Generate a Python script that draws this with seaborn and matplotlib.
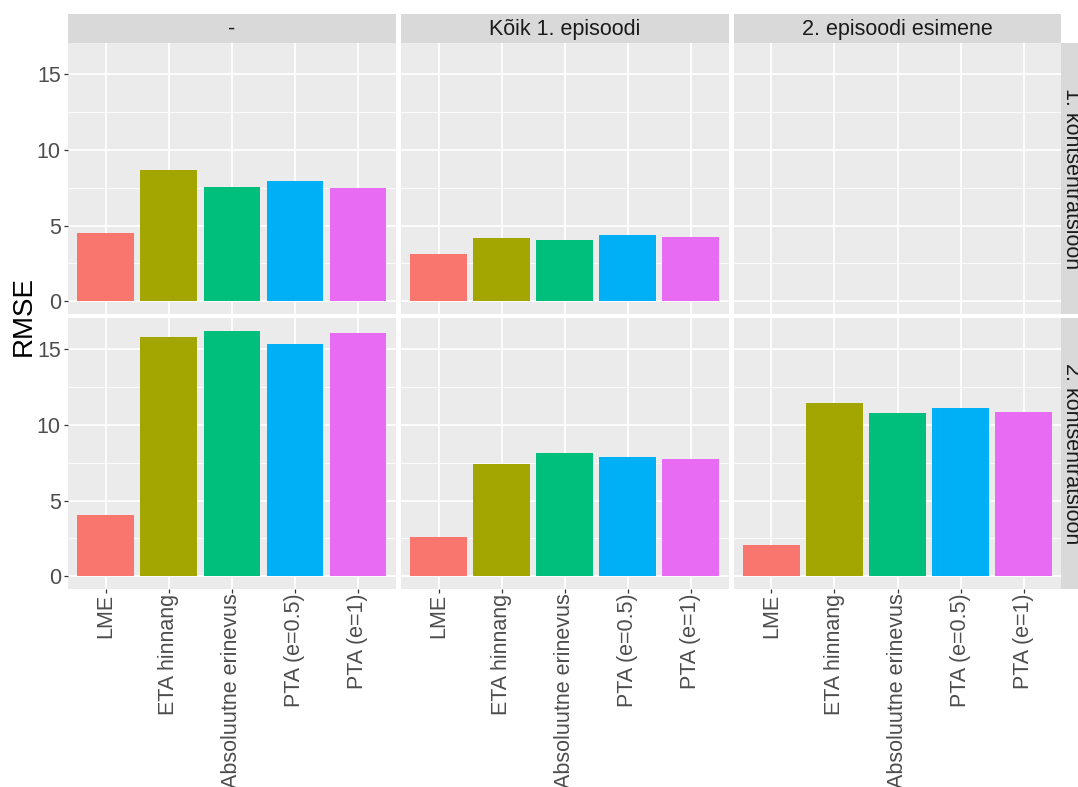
import matplotlib
matplotlib.use("Agg")
import matplotlib.pyplot as plt
import numpy as np
import pandas as pd
import seaborn as sns

# Facet levels and methods
methods = ["LME", "ETA hinnang", "Absoluutne erinevus", "PTA (e=0.5)", "PTA (e=1)"]
episodes = ["-", "Kõik 1. episoodi", "2. episoodi esimene"]
concentrations = ["1. kontsentratsioon", "2. kontsentratsioon"]

# RMSE values per facet (concentration x episode)
rmse_c1_none = [4.48, 8.66, 7.58, 7.93, 7.51]
rmse_c1_ep1 = [3.14, 4.17, 4.07, 4.35, 4.22]
rmse_c1_ep2 = []  # no data for this combination
rmse_c2_none = [4.05, 15.82, 16.24, 15.33, 16.06]
rmse_c2_ep1 = [2.62, 7.42, 8.13, 7.91, 7.78]
rmse_c2_ep2 = [2.07, 11.48, 10.77, 11.12, 10.88]

palette = ["#F8766D", "#A3A500", "#00BF7D", "#00B0F6", "#E76BF3"]
y_ticks = [0, 5, 10, 15]
y_minor = [2.5, 7.5, 12.5]

rows = []
for conc, ep, vals in [
    (concentrations[0], episodes[0], rmse_c1_none),
    (concentrations[0], episodes[1], rmse_c1_ep1),
    (concentrations[0], episodes[2], rmse_c1_ep2),
    (concentrations[1], episodes[0], rmse_c2_none),
    (concentrations[1], episodes[1], rmse_c2_ep1),
    (concentrations[1], episodes[2], rmse_c2_ep2),
]:
    for m, v in zip(methods, vals):
        rows.append({"conc": conc, "episode": ep, "method": m, "rmse": v})
df = pd.DataFrame(rows)

plt.rcParams["font.family"] = ["Liberation Sans", "DejaVu Sans"]

W, H = 1078, 787
fig = plt.figure(figsize=(W / 100, H / 100), dpi=100)
fig.patch.set_facecolor("white")

panel_x = [68.0, 400.8, 733.6]
panel_w = 327.8
panel_y = [43.3, 318.3]
panel_h = 270.2
strip_h = 29.0
fs = 15.5

ymax = df["rmse"].max()
ylim = (-0.05 * ymax, 1.05 * ymax)


def add_ax(x, y, w, h):
    return fig.add_axes([x / W, 1 - (y + h) / H, w / W, h / H])


for r, conc in enumerate(concentrations):
    for c, ep in enumerate(episodes):
        ax = add_ax(panel_x[c], panel_y[r], panel_w, panel_h)
        ax.set_facecolor("#EBEBEB")
        sub = df[(df["conc"] == conc) & (df["episode"] == ep)]
        if len(sub):
            sns.barplot(data=sub, x="method", y="rmse", hue="method",
                        order=methods, hue_order=methods, palette=palette,
                        width=0.9, saturation=1, errorbar=None, legend=False,
                        ax=ax, zorder=3)
        ax.set_xticks(range(len(methods)))
        ax.set_xlim(-0.6, len(methods) - 0.4)
        ax.set_ylim(*ylim)
        ax.set_yticks(y_ticks)
        ax.set_yticks(y_minor, minor=True)
        ax.grid(True, which="major", color="white", linewidth=1.25, zorder=1)
        ax.grid(True, which="minor", axis="y", color="white", linewidth=0.6, zorder=1)
        ax.set_axisbelow(True)
        for s in ax.spines.values():
            s.set_visible(False)
        ax.set_xlabel("")
        ax.set_ylabel("")
        ax.tick_params(which="minor", length=0)
        ax.tick_params(which="major", length=3.2, width=0.9, color="#333333",
                       labelcolor="#4D4D4D", labelsize=fs, pad=2)
        if r == 1:
            ax.set_xticklabels(methods, rotation=90, va="top", ha="center")
            ax.tick_params(axis="x", pad=0.5)
        else:
            ax.set_xticklabels([])
            ax.tick_params(axis="x", length=0)
        if c == 0:
            ax.set_yticklabels([str(t) for t in y_ticks])
        else:
            ax.set_yticklabels([])
            ax.tick_params(axis="y", length=0)

        # column strip on top row
        if r == 0:
            sax = add_ax(panel_x[c], panel_y[0] - strip_h, panel_w, strip_h)
            sax.set_facecolor("#D9D9D9")
            sax.set_xticks([]); sax.set_yticks([])
            for s in sax.spines.values():
                s.set_visible(False)
            sax.text(0.5, 0.47, ep, ha="center", va="center", fontsize=fs,
                     color="#1A1A1A", transform=sax.transAxes)

    # row strip on the right
    rax = add_ax(panel_x[2] + panel_w, panel_y[r], strip_h, panel_h)
    rax.set_facecolor("#D9D9D9")
    rax.set_xticks([]); rax.set_yticks([])
    for s in rax.spines.values():
        s.set_visible(False)
    rax.text(0.36, 0.5, conc, ha="center", va="center", rotation=-90,
             fontsize=fs, color="#1A1A1A", transform=rax.transAxes)

fig.text(24 / W, 1 - 316 / H, "RMSE", rotation=90, ha="center", va="center",
         fontsize=20, color="black")

fig.savefig("out.png", dpi=100, facecolor="white")
